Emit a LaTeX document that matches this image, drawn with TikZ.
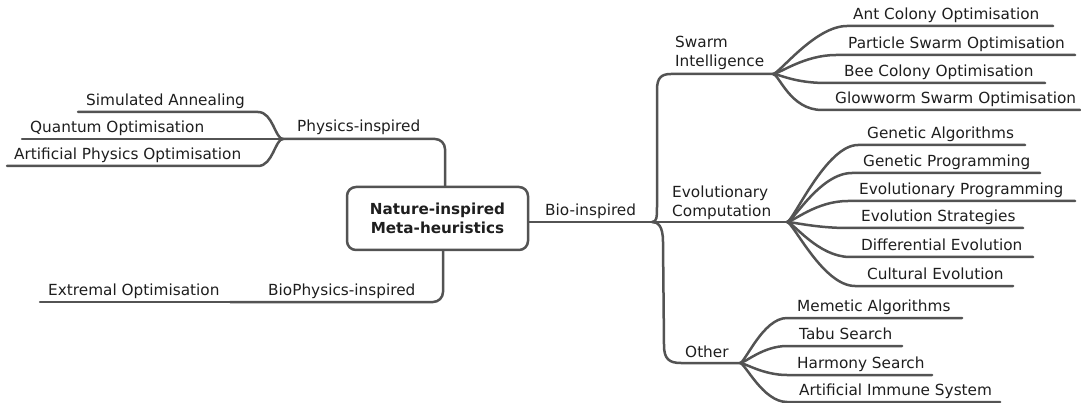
\documentclass[tikz,border=0pt]{standalone}
\usepackage{fontspec}
\setmainfont{DejaVu Sans}
\definecolor{edge}{HTML}{535353}
\definecolor{ink}{HTML}{1E1E1E}
\begin{document}
\begin{tikzpicture}[x=1pt,y=-1pt,
  branch/.style={draw=edge,line width=2.5pt,line cap=round},
  lbl/.style={anchor=base west,inner sep=0pt,text=ink,font=\fontsize{15.3}{19}\selectfont},
  grp/.style={lbl,anchor=south west,align=left},
  root/.style={draw=edge,line width=2.5pt,rounded corners=9pt,minimum width=181pt,
    minimum height=63pt,align=center,text=ink,font=\bfseries\fontsize{15.2}{19}\selectfont}]
\useasboundingbox (0,0) rectangle (1081,403);

% central topic
\node[root] (root) at (437.5,218.5) {Nature-inspired\\Meta-heuristics};

% junction points of the branches
\coordinate (J0) at (652,222);   % Bio-inspired fork
\coordinate (J1) at (773,74);    % Swarm Intelligence fan
\coordinate (J2) at (787,222);   % Evolutionary Computation fan
\coordinate (J3) at (740,363);   % Other fan
\coordinate (J4) at (283,139);   % Physics-inspired fan
\coordinate (J5) at (230,302);   % BioPhysics-inspired end
\coordinate (swS) at (671,74);
\coordinate (otS) at (681,363);

% ---------------- right side: Bio-inspired ----------------
\draw[branch] ([yshift=-3.5pt]root.east) -- (J0);
\node[lbl] (bio) at (545,216) {Bio-inspired};

\draw[branch] (J0) .. controls +(5,0) and +(0,16) .. (657,202) -- (657,90)
  .. controls +(0,-12) and +(-10,0) .. (swS) -- (J1);
\node[grp] (swarm) at (675,70) {Swarm\\Intelligence};

\draw[branch] (J0) -- (J2);
\node[grp] (evo) at (672,219.5) {Evolutionary\\Computation};

\draw[branch] (J0) .. controls +(6,0) and +(0,-16) .. (663,242) -- (664,345)
  .. controls +(0,14) and +(-12,0) .. (otS) -- (J3);
\node[lbl] (other) at (685,357) {Other};

% Swarm Intelligence leaves: name/line y/line start/line end/text x/text
\foreach \n/\y/\s/\e/\t/\txt in {
  aco/26/847/1053/853/Ant Colony Optimisation,
  pso/55/836/1075/848/Particle Swarm Optimisation,
  bco/83/826/1045/844/Bee Colony Optimisation,
  gso/110/822/1080/835/Glowworm Swarm Optimisation}{
  \coordinate (\n s) at (\s,\y);
  \coordinate (\n e) at (\e,\y);
  \draw[branch] (J1) .. controls +(6,0) and +(-32,0) .. (\n s) -- (\n e);
  \node[lbl] (\n) at (\t,\y-6.5) {\txt};
}

% Evolutionary Computation leaves
\foreach \n/\y/\s/\e/\t/\txt in {
  ga/145/858/1025/867/Genetic Algorithms,
  gp/173/852/1040/863/Genetic Programming,
  ep/201/848/1075/859/Evolutionary Programming,
  es/228/848/1023/861/Evolution Strategies,
  de/257/850/1033/861/Differential Evolution,
  ce/286/855/1013/867/Cultural Evolution}{
  \coordinate (\n s) at (\s,\y);
  \coordinate (\n e) at (\e,\y);
  \draw[branch] (J2) .. controls +(6,0) and +(-32,0) .. (\n s) -- (\n e);
  \node[lbl] (\n) at (\t,\y-6.5) {\txt};
}

% Other leaves
\foreach \n/\y/\s/\e/\t/\txt in {
  ma/318/787/962/797/Memetic Algorithms,
  ts/346/787/902/799/Tabu Search,
  hs/375/787/932/797/Harmony Search,
  ais/402/787/1000/799/Artificial Immune System}{
  \coordinate (\n s) at (\s,\y);
  \coordinate (\n e) at (\e,\y);
  \draw[branch] (J3) .. controls +(5,0) and +(-24,0) .. (\n s) -- (\n e);
  \node[lbl] (\n) at (\t,\y-6.5) {\txt};
}

% ---------------- left side ----------------
\draw[branch,rounded corners=10pt] ([xshift=7.5pt]root.north) |- (J4);
\node[lbl] (phys) at (297,132) {Physics-inspired};

\coordinate (saS) at (258,112);
\coordinate (saE) at (78,112);
\coordinate (qoE) at (22,139);
\coordinate (apS) at (258,166);
\coordinate (apE) at (7,166);
\draw[branch] (J4) .. controls +(-8,0) and +(15,0) .. (saS) -- (saE);
\draw[branch] (J4) -- (qoE);
\draw[branch] (J4) .. controls +(-8,0) and +(15,0) .. (apS) -- (apE);
\node[lbl] (sa) at (86,105.5) {Simulated Annealing};
\node[lbl] (qo) at (30,132.5) {Quantum Optimisation};
\node[lbl] (apo) at (14,159.5) {Artificial Physics Optimisation};

\coordinate (exE) at (40,302);
\draw[branch,rounded corners=10pt] ([xshift=5.5pt]root.south) |- (J5);
\draw[branch] (J5) -- (exE);
\node[lbl] (bphys) at (268,295.5) {BioPhysics-inspired};
\node[lbl] (ext) at (48,295.5) {Extremal Optimisation};
\end{tikzpicture}
\end{document}
